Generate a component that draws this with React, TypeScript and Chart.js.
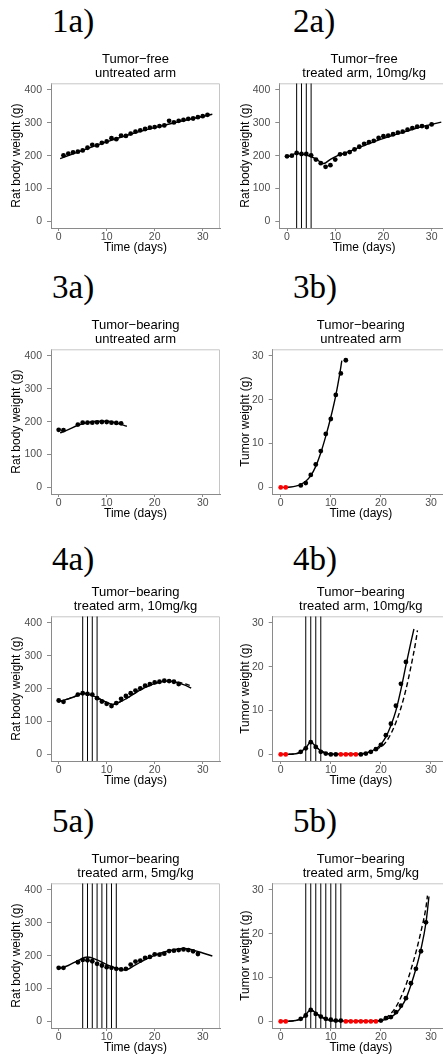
import React, { useEffect, useRef } from 'react';
import { Chart, registerables } from 'chart.js';

Chart.register(...registerables);

const SANS = '"Liberation Sans", Arial, Helvetica, sans-serif';
const SERIF = '"Liberation Serif", "Times New Roman", serif';

// ---------- tick labels ----------
const timeTicks = [0, 10, 20, 30];
const bodyWeightTicks = [0, 100, 200, 300, 400];
const tumorWeightTicks = [0, 10, 20, 30];

// ---------- 1a: tumor-free, untreated ----------
const days1a = [1, 2, 3, 4, 5, 6, 7, 8, 9, 10, 11, 12, 13, 14, 15, 16, 17, 18, 19, 20, 21, 22, 23, 24, 25, 26, 27, 28, 29, 30, 31];
const weight1a = [201, 206, 210, 212, 216, 224, 233, 231, 239, 243, 253, 250, 261, 260, 267, 273, 277, 281, 285, 287, 290, 292, 306, 301, 306, 309, 312, 313, 317, 320, 324];
const fitDays1a = [0.3, 5, 10, 15, 20, 25, 32];
const fitWeight1a = [191, 216, 242, 265, 285, 303, 326];

// ---------- 2a: tumor-free, treated 10mg/kg ----------
const days2a = [0, 1, 2, 3, 4, 5, 6, 7, 8, 9, 10, 11, 12, 13, 14, 15, 16, 17, 18, 19, 20, 21, 22, 23, 24, 25, 26, 27, 28, 29, 30];
const weight2a = [198, 200, 208, 205, 205, 201, 188, 177, 166, 171, 188, 204, 206, 211, 219, 227, 236, 241, 245, 254, 259, 261, 265, 270, 273, 279, 284, 288, 290, 287, 295];
const fitDays2a = [0.3, 2, 4, 6, 7.6, 9, 10.5, 12, 15, 18, 21, 24, 27, 30, 32];
const fitWeight2a = [197, 207, 202, 190, 176, 189, 200, 208, 225, 242, 257, 271, 284, 295, 302];
const doses2a = [2, 3, 4, 5];

// ---------- 3a: tumor-bearing, untreated (body weight) ----------
const days3a = [0, 1, 4, 5, 6, 7, 8, 9, 10, 11, 12, 13];
const weight3a = [175, 174, 191, 197, 197, 197, 198, 199, 199, 197, 196, 195];
const fitDays3a = [0.3, 2, 4, 6, 8, 10, 12, 14.2];
const fitWeight3a = [166, 176, 189, 197, 201, 201, 196, 186];

// ---------- 3b: tumor-bearing, untreated (tumor weight) ----------
const days3b = [4, 5, 6, 7, 8, 9, 10, 11, 12, 13];
const tumor3b = [0.45, 1.0, 2.85, 5.25, 8.3, 12.2, 15.6, 21.1, 26, 29];
const redDays3b = [0, 1];
const redTumor3b = [0, 0];
const fitDays3b = [0, 2, 3, 4, 5, 6, 7, 8, 9, 10, 11, 11.7, 12.2];
const fitTumor3b = [0, 0.1, 0.3, 0.7, 1.4, 2.7, 4.8, 7.9, 11.7, 16, 21, 25.3, 28.9];

// ---------- 4a: tumor-bearing, treated 10mg/kg (body weight) ----------
const days4a = [0, 1, 4, 5, 6, 7, 8, 9, 10, 11, 12, 13, 14, 15, 16, 17, 18, 19, 20, 21, 22, 23, 24, 25];
const weight4a = [164, 160, 182, 186, 184, 182, 171, 161, 154, 147, 156, 169, 178, 186, 194, 201, 209, 214, 219, 221, 224, 223, 221, 214];
const fitDays4a = [0, 2, 4, 5, 6, 8, 10, 11.3, 13, 15, 17, 19, 21, 22.5, 24, 26, 27.6];
const fitWeight4a = [160, 169, 180, 186, 184, 173, 158, 152, 161, 178, 196, 210, 220, 223, 221, 212, 202];
const dashDays4a = [0, 2, 4, 5, 6, 8, 10, 11.3, 13, 15, 17, 19, 21, 22.5, 24, 26, 27.3];
const dashWeight4a = [160, 169, 180, 186, 184, 173, 158, 152, 161, 178, 196, 210, 220, 223, 222, 216, 210];
const doses4a = [5, 6, 7, 8];

// ---------- 4b: tumor-bearing, treated 10mg/kg (tumor weight) ----------
const days4b = [4, 5, 6, 7, 8, 9, 10, 11, 16, 17, 18, 19, 20, 21, 22, 23, 24, 25];
const tumor4b = [0.6, 1.4, 2.8, 1.7, 0.6, 0.2, 0, 0, 0, 0.2, 0.6, 1.2, 2.2, 4.4, 7.0, 11.1, 16.1, 21.1];
const redDays4b = [0, 1, 12, 13, 14, 15];
const redTumor4b = [0, 0, 0, 0, 0, 0];
const fitDays4b = [0, 3, 4, 5, 6, 7, 8, 9, 10, 15, 17, 18, 19, 20, 21, 22, 23, 24, 25, 26, 26.6];
const fitTumor4b = [0, 0.15, 0.6, 1.5, 2.8, 1.8, 0.8, 0.3, 0.1, 0.05, 0.3, 0.7, 1.3, 2.3, 4.0, 6.6, 10, 14.8, 20.3, 25.6, 28.6];
const dashDays4b = [0, 3, 4, 5, 6, 7, 8, 9, 10, 15, 17, 18, 19, 20, 21, 22, 23, 24, 25, 26, 27, 27.3];
const dashTumor4b = [0, 0.15, 0.6, 1.5, 2.8, 1.8, 0.8, 0.3, 0.1, 0.05, 0.3, 0.7, 1.2, 1.7, 2.8, 4.7, 7.3, 10.6, 14.8, 20, 26, 28.3];
const doses4b = [5, 6, 7, 8];

// ---------- 5a: tumor-bearing, treated 5mg/kg (body weight) ----------
const days5a = [0, 1, 4, 5, 6, 7, 8, 9, 10, 11, 12, 13, 14, 15, 16, 17, 18, 19, 20, 21, 22, 23, 24, 25, 26, 27, 28, 29];
const weight5a = [163, 163, 180, 187, 186, 183, 175, 170, 165, 163, 160, 158, 160, 173, 182, 185, 193, 196, 204, 203, 206, 214, 215, 217, 219, 217, 213, 205];
const fitDays5a = [0, 2, 4, 6, 8, 10, 12, 13.8, 16, 18, 20, 22, 24, 26, 28, 30, 32];
const fitWeight5a = [160, 170, 185, 196, 187, 173, 162, 156, 172, 188, 201, 211, 218, 222, 217, 208, 199];
const doses5a = [5, 6, 7, 8, 9, 10, 11, 12];

// ---------- 5b: tumor-bearing, treated 5mg/kg (tumor weight) ----------
const days5b = [4, 5, 6, 7, 8, 9, 10, 11, 12, 20, 21, 22, 23, 24, 25, 26, 27, 28, 29];
const tumor5b = [0.6, 1.35, 2.6, 1.7, 1.1, 0.6, 0.4, 0.2, 0.2, 0.2, 0.75, 1.0, 2.1, 3.6, 5.3, 8.7, 12.0, 16.0, 22.6];
const redDays5b = [0, 1, 13, 14, 15, 16, 17, 18, 19];
const redTumor5b = [0, 0, 0, 0, 0, 0, 0, 0, 0];
const fitDays5b = [0, 3, 4.5, 6, 7.5, 9, 11, 15, 19, 20, 21, 22, 23, 24, 25, 26, 27, 28, 29, 29.6];
const fitTumor5b = [0, 0.2, 0.9, 2.6, 1.5, 0.5, 0.15, 0.05, 0.1, 0.2, 0.5, 1.0, 1.8, 3.2, 5.2, 8.3, 12, 16.5, 22.5, 28.5];
const dashDays5b = [0, 3, 4.5, 6, 7.5, 9, 11, 15, 19, 20, 21, 22, 23, 24, 25, 26, 27, 28, 29, 29.3];
const dashTumor5b = [0, 0.2, 0.9, 2.6, 1.5, 0.5, 0.15, 0.05, 0.1, 0.2, 0.8, 1.8, 3.3, 5.5, 8.3, 11.8, 15.8, 20.5, 26, 28.7];
const doses5b = [5, 6, 7, 8, 9, 10, 11, 12];

// ---------- panel definitions ----------
type Series = { x: number[]; y: number[] };
interface PanelDef {
  label: string;
  col: number;
  row: number;
  kind: 'body' | 'tumor';
  title: string[];
  black: Series;
  red?: Series;
  fit: Series;
  dashed?: Series;
  doses: number[];
}

const panels: PanelDef[] = [
  { label: '1a)', col: 0, row: 0, kind: 'body', title: ['Tumor−free', 'untreated arm'], black: { x: days1a, y: weight1a }, fit: { x: fitDays1a, y: fitWeight1a }, doses: [] },
  { label: '2a)', col: 1, row: 0, kind: 'body', title: ['Tumor−free', 'treated arm, 10mg/kg'], black: { x: days2a, y: weight2a }, fit: { x: fitDays2a, y: fitWeight2a }, doses: doses2a },
  { label: '3a)', col: 0, row: 1, kind: 'body', title: ['Tumor−bearing', 'untreated arm'], black: { x: days3a, y: weight3a }, fit: { x: fitDays3a, y: fitWeight3a }, doses: [] },
  { label: '3b)', col: 1, row: 1, kind: 'tumor', title: ['Tumor−bearing', 'untreated arm'], black: { x: days3b, y: tumor3b }, red: { x: redDays3b, y: redTumor3b }, fit: { x: fitDays3b, y: fitTumor3b }, doses: [] },
  { label: '4a)', col: 0, row: 2, kind: 'body', title: ['Tumor−bearing', 'treated arm, 10mg/kg'], black: { x: days4a, y: weight4a }, fit: { x: fitDays4a, y: fitWeight4a }, dashed: { x: dashDays4a, y: dashWeight4a }, doses: doses4a },
  { label: '4b)', col: 1, row: 2, kind: 'tumor', title: ['Tumor−bearing', 'treated arm, 10mg/kg'], black: { x: days4b, y: tumor4b }, red: { x: redDays4b, y: redTumor4b }, fit: { x: fitDays4b, y: fitTumor4b }, dashed: { x: dashDays4b, y: dashTumor4b }, doses: doses4b },
  { label: '5a)', col: 0, row: 3, kind: 'body', title: ['Tumor−bearing', 'treated arm, 5mg/kg'], black: { x: days5a, y: weight5a }, fit: { x: fitDays5a, y: fitWeight5a }, doses: doses5a },
  { label: '5b)', col: 1, row: 3, kind: 'tumor', title: ['Tumor−bearing', 'treated arm, 5mg/kg'], black: { x: days5b, y: tumor5b }, red: { x: redDays5b, y: redTumor5b }, fit: { x: fitDays5b, y: fitTumor5b }, dashed: { x: dashDays5b, y: dashTumor5b }, doses: doses5b },
];

// ---------- layout ----------
const ROWS = [
  { top: 82, bottom: 228, labelBase: 33 },
  { top: 348, bottom: 494, labelBase: 299 },
  { top: 615, bottom: 761, labelBase: 571 },
  { top: 882, bottom: 1028, labelBase: 833 },
];
const COLS = [
  { canvasLeft: 0, plotRight: 220, labelLeft: 52, bodyLeft: 51, tumorLeft: 51 },
  { canvasLeft: 229, plotRight: 449, labelLeft: 293, bodyLeft: 279.3, tumorLeft: 272.7 },
];
const PAD_TOP = 10;
const PAD_RIGHT = 4;
const X_AXIS_H = 28;
const AXIS_COLOR = '#8a8a8a';
const FRAME_COLOR = '#c6c6c6';
const TICK_TEXT = '#4d4d4d';
const TICK_SIZE = 10.5;
const LABEL_SIZE = 33;
const TITLE_SIZE = 13;

const frame = {
  id: 'panelFrame',
  beforeDatasetsDraw(chart: any) {
    const { ctx, chartArea: a } = chart;
    ctx.save();
    ctx.strokeStyle = FRAME_COLOR;
    ctx.lineWidth = 1;
    ctx.beginPath();
    ctx.moveTo(a.left, a.top + 0.5);
    ctx.lineTo(a.right - 0.5, a.top + 0.5);
    ctx.lineTo(a.right - 0.5, a.bottom);
    ctx.stroke();
    ctx.restore();
  },
};

const toXY = (s: Series) => s.x.map((x, i) => ({ x, y: s.y[i] }));

function Panel({ p }: { p: PanelDef }) {
  const ref = useRef<HTMLCanvasElement>(null);
  const row = ROWS[p.row];
  const col = COLS[p.col];
  const plotLeft = p.kind === 'body' ? col.bodyLeft : col.tumorLeft;
  const cTop = row.top - PAD_TOP;
  const cH = row.bottom - row.top + PAD_TOP + X_AXIS_H;
  const cW = col.plotRight - col.canvasLeft + PAD_RIGHT;
  const yAxisW = plotLeft - col.canvasLeft;

  useEffect(() => {
    const isBody = p.kind === 'body';
    const yMin = isBody ? -20 : -1.5;
    const yMax = isBody ? 420 : 31.5;
    const yTicks = isBody ? bodyWeightTicks : tumorWeightTicks;
    const datasets: any[] = [];
    datasets.push({
      data: toXY(p.black), showLine: false, pointRadius: 2.4, pointBackgroundColor: '#000',
      pointBorderWidth: 0, borderColor: '#000', order: 0,
    });
    if (p.red) {
      datasets.push({
        data: toXY(p.red), showLine: false, pointRadius: 2.4, pointBackgroundColor: '#ff0000',
        pointBorderWidth: 0, borderColor: '#ff0000', order: 0,
      });
    }
    datasets.push({
      data: toXY(p.fit), borderColor: '#000', borderWidth: 1.4, pointRadius: 0,
      cubicInterpolationMode: 'monotone', fill: false, order: 1,
    });
    if (p.dashed) {
      datasets.push({
        data: toXY(p.dashed), borderColor: '#000', borderWidth: 1.4, borderDash: [5, 3], pointRadius: 0,
        cubicInterpolationMode: 'monotone', fill: false, order: 1,
      });
    }
    p.doses.forEach((d) => {
      datasets.push({
        data: [{ x: d, y: yMin }, { x: d, y: yMax }], borderColor: '#000', borderWidth: 1,
        pointRadius: 0, tension: 0, fill: false, order: 2,
      });
    });

    const chart = new Chart(ref.current as HTMLCanvasElement, {
      type: 'line',
      data: { datasets },
      plugins: [frame],
      options: {
        animation: false,
        responsive: false,
        events: [],
        layout: { padding: { top: PAD_TOP, right: PAD_RIGHT, left: 0, bottom: 0 } },
        plugins: { legend: { display: false }, tooltip: { enabled: false }, title: { display: false } },
        scales: {
          x: {
            type: 'linear', min: -1.6, max: 33.6,
            afterBuildTicks: (s: any) => { s.ticks = timeTicks.map((v) => ({ value: v })); },
            afterFit: (s: any) => { s.height = X_AXIS_H; },
            ticks: { color: TICK_TEXT, font: { family: SANS, size: TICK_SIZE }, padding: 0, maxRotation: 0, autoSkip: false },
            grid: { display: true, drawOnChartArea: false, drawTicks: true, tickLength: 3, color: AXIS_COLOR, tickColor: AXIS_COLOR },
            border: { display: true, color: AXIS_COLOR, width: 1 },
            title: { display: true, text: 'Time (days)', color: '#000', font: { family: SANS, size: 12 }, padding: { top: 0, bottom: 1 } },
          },
          y: {
            type: 'linear', min: yMin, max: yMax,
            afterBuildTicks: (s: any) => { s.ticks = yTicks.map((v) => ({ value: v })); },
            afterFit: (s: any) => { s.width = yAxisW; },
            ticks: { color: TICK_TEXT, font: { family: SANS, size: TICK_SIZE }, padding: 5, autoSkip: false },
            grid: { display: true, drawOnChartArea: false, drawTicks: true, tickLength: 4, color: AXIS_COLOR, tickColor: AXIS_COLOR },
            border: { display: true, color: AXIS_COLOR, width: 1 },
            title: {
              display: true, text: isBody ? 'Rat body weight (g)' : 'Tumor weight (g)', color: '#000',
              font: { family: SANS, size: 12 }, padding: { top: 9.5, bottom: 0 },
            },
          },
        },
      } as any,
    });
    return () => chart.destroy();
  }, []);

  return (
    <>
      <canvas
        ref={ref}
        width={cW}
        height={cH}
        style={{ position: 'absolute', left: col.canvasLeft, top: cTop, width: cW, height: cH }}
      />
      <div
        style={{
          position: 'absolute', left: col.labelLeft, top: row.labelBase - 27.6,
          fontFamily: SERIF, fontSize: LABEL_SIZE, lineHeight: `${LABEL_SIZE}px`, color: '#000', whiteSpace: 'nowrap',
        }}
      >
        {p.label}
      </div>
      <div
        style={{
          position: 'absolute', left: plotLeft, width: col.plotRight - plotLeft, top: row.top - 30.5,
          textAlign: 'center', fontFamily: SANS, fontSize: TITLE_SIZE, lineHeight: '14px', color: '#000', whiteSpace: 'nowrap',
        }}
      >
        {p.title[0]}
        <br />
        {p.title[1]}
      </div>
    </>
  );
}

export default function App() {
  return (
    <div
      style={{
        position: 'absolute', left: 0, top: 0, width: 443, height: 1058, overflow: 'hidden', background: '#fff',
      }}
    >
      {panels.map((p) => (
        <Panel key={p.label} p={p} />
      ))}
    </div>
  );
}
